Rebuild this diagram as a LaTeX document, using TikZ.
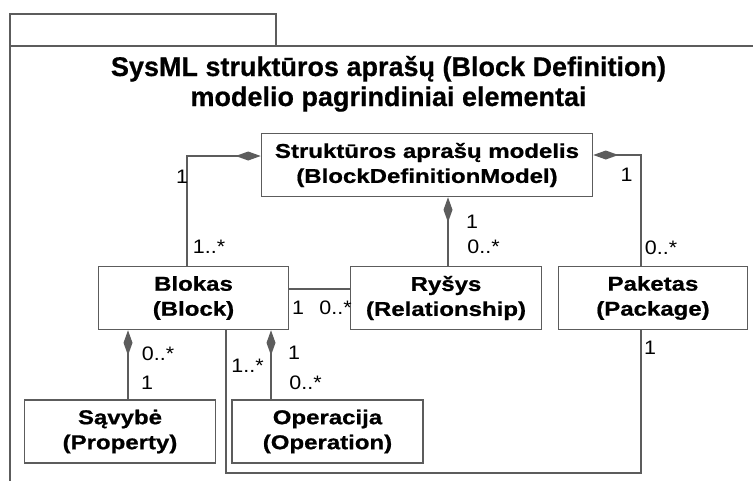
\documentclass[tikz,border=0pt]{standalone}
\usepackage{fontspec}
\setmainfont[BoldFeatures={FakeBold=0.6}]{Liberation Sans}
\newfontfamily\boxfont[FakeStretch=1.2, BoldFeatures={FakeBold=0.8}]{Liberation Sans}
\newfontfamily\multfont[FakeStretch=1.1]{Liberation Sans}
\usetikzlibrary{arrows.meta}
\definecolor{linegray}{gray}{0.36}
\begin{document}
\begin{tikzpicture}[x=1pt,y=-1pt,
  blk/.style={draw=linegray, line width=1.6pt, fill=white, minimum height=63pt,
    align=center, inner sep=0pt, text=black,
    font=\boxfont\bfseries\fontsize{20}{25}\selectfont},
  conn/.style={draw=linegray, line width=1.6pt},
  comp/.style={conn, {Diamond[length=25pt,width=9pt,fill=linegray]}-},
  mult/.style={inner sep=0pt, text=black, font=\multfont\fontsize{19.5}{19.5}\selectfont},
  ttl/.style={inner sep=0pt, anchor=base, text=black, font=\bfseries\fontsize{27}{30}\selectfont},
  frm/.style={draw=linegray, line width=1.8pt}
]
\clip (0,0) rectangle (753,480);
\fill[white] (0,0) rectangle (753,480);
% package frame
\draw[frm] (10,490) -- (10,14) -- (276,14) -- (276,46);
\draw[frm] (10,46) -- (770,46);
% title
\node[ttl] (title1) at (388.5,76) {SysML struktūros aprašų (Block Definition)};
\node[ttl] (title2) at (388.5,106) {modelio pagrindiniai elementai};
% blocks
\node[blk, minimum width=331pt] (top) at (427,165) {Struktūros aprašų modelis\\(BlockDefinitionModel)};
\node[blk, minimum width=190pt] (blokas) at (193.5,298) {Blokas\\(Block)};
\node[blk, minimum width=191pt] (rysys) at (446,298) {Ryšys\\(Relationship)};
\node[blk, minimum width=189pt] (paketas) at (653,298) {Paketas\\(Package)};
\node[blk, minimum width=191pt] (savybe) at (120,431.5) {Sąvybė\\(Property)};
\node[blk, minimum width=191pt] (operacija) at (327.5,431.5) {Operacija\\(Operation)};
% connectors
\draw[comp] ([yshift=9pt]top.west) -| ([xshift=-6.5pt]blokas.north);
\draw[comp] ([yshift=10pt]top.east) -| ([xshift=-12pt]paketas.north);
\draw[comp] ([xshift=21pt]top.south) -- ([xshift=21pt]top.south |- rysys.north);
\draw[conn] ([yshift=9pt]blokas.east) -- ([yshift=9pt]rysys.west);
\draw[comp] ([xshift=-65.5pt]blokas.south) -- ([xshift=-65.5pt]blokas.south |- savybe.north);
\draw[comp] ([xshift=77.5pt]blokas.south) -- ([xshift=77.5pt]blokas.south |- operacija.north);
\coordinate (loopc) at (641,473);
\draw[conn] ([xshift=32.5pt]blokas.south) |- (loopc) -- (loopc |- paketas.south);
% multiplicities
\node[mult] (m1) at (182,177) {1};
\node[mult] (m2) at (209,247) {1..*};
\node[mult] (m3) at (472,221.5) {1};
\node[mult] (m4) at (483.5,247) {0..*};
\node[mult] (m5) at (626.5,175) {1};
\node[mult] (m6) at (661,247.5) {0..*};
\node[mult] (m7) at (298,307.5) {1};
\node[mult] (m8) at (335.5,307.5) {0..*};
\node[mult] (m9) at (158,354) {0..*};
\node[mult] (m10) at (147,382.5) {1};
\node[mult] (m11) at (247.5,366) {1..*};
\node[mult] (m12) at (294,352.5) {1};
\node[mult] (m13) at (305.5,382.5) {0..*};
\node[mult] (m14) at (650,348) {1};
\end{tikzpicture}
\end{document}
